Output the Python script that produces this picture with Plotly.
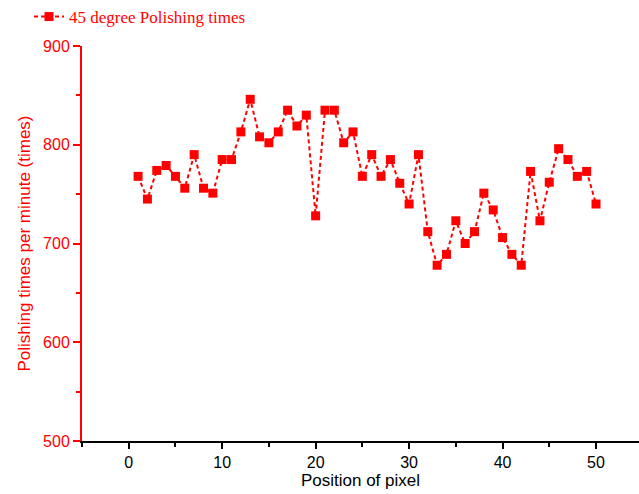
import plotly.graph_objects as go

positions = list(range(1, 51))
polishing_times = [
    768, 745, 774, 779, 768, 756, 790, 756, 751, 785,
    785, 813, 846, 808, 802, 813, 835, 819, 830, 728,
    835, 835, 802, 813, 768, 790, 768, 785, 761, 740,
    790, 712, 678, 689, 723, 700, 712, 751, 734, 706,
    689, 678, 773, 723, 762, 796, 785, 768, 773, 740,
]
series_name = "45 degree Polishing times"
x_ticks = [0, 10, 20, 30, 40, 50]
y_ticks = [500, 600, 700, 800, 900]

fig = go.Figure()
fig.add_trace(go.Scatter(
    x=positions, y=polishing_times, name=series_name,
    mode="lines+markers",
    line=dict(color="#ff0000", width=2, dash="4px,3px"),
    marker=dict(symbol="square", size=9, color="#ff0000"),
    showlegend=True,
))

fig.update_layout(
    width=639, height=494,
    margin=dict(l=82, r=0, t=46, b=53, autoexpand=False),
    paper_bgcolor="white", plot_bgcolor="white",
    font=dict(family="Liberation Sans, Arial", size=16, color="black"),
    showlegend=True,
    legend=dict(
        x=(29 - 82) / 557, y=1 + 47 / 395, xanchor="left", yanchor="top",
        font=dict(family="Liberation Serif, Times New Roman", size=17, color="#ff0000"),
        bgcolor="rgba(0,0,0,0)", borderwidth=0,
        itemwidth=30,
    ),
    xaxis=dict(
        range=[-5, 54.6], tickvals=x_ticks,
        showgrid=False, zeroline=False,
        showline=True, linecolor="black", linewidth=2,
        ticks="outside", ticklen=6, tickwidth=1.5, tickcolor="black",
        minor=dict(ticks="outside", ticklen=4, tickwidth=1.5, tickcolor="black", dtick=5, tick0=-5),
        tickfont=dict(size=16, color="black"),
        title=dict(text="Position of pixel", font=dict(size=17, color="black"), standoff=4),
    ),
    yaxis=dict(
        range=[500, 900], tickvals=y_ticks,
        showgrid=False, zeroline=False,
        showline=True, linecolor="#ff0000", linewidth=2,
        ticks="outside", ticklen=7, tickwidth=1.5, tickcolor="#ff0000",
        minor=dict(ticks="outside", ticklen=4, tickwidth=1.5, tickcolor="#ff0000", dtick=50, tick0=500),
        tickfont=dict(size=16, color="#ff0000"),
        title=dict(text="Polishing times per minute (times)", font=dict(size=17, color="#ff0000"), standoff=8),
    ),
)

fig.write_html("out.html")
